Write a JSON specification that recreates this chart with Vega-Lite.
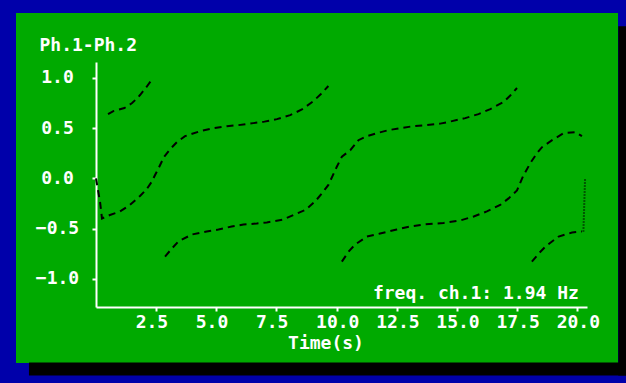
{
  "$schema": "https://vega.github.io/schema/vega-lite/v6.json",
  "width": 602,
  "height": 350,
  "autosize": {"type": "none"},
  "padding": {"left": 16, "top": 13, "right": 8, "bottom": 20},
  "background": "#0000AA",
  "config": {
    "view": {"fill": "#00AA00", "stroke": null},
    "font": "DejaVu Sans Mono"
  },
  "datasets": {
    "phase": [
      {"seg": "A1", "t": 0.0, "v": 0.0},
      {"seg": "A1", "t": 0.17, "v": -0.24},
      {"seg": "A1", "t": 0.25, "v": -0.4},
      {"seg": "A1", "t": 0.58, "v": -0.365},
      {"seg": "A1", "t": 1.0, "v": -0.33},
      {"seg": "A1", "t": 1.41, "v": -0.265},
      {"seg": "A1", "t": 1.83, "v": -0.176},
      {"seg": "A1", "t": 2.1, "v": -0.11},
      {"seg": "A1", "t": 2.3, "v": -0.04},
      {"seg": "A1", "t": 2.45, "v": 0.03},
      {"seg": "A1", "t": 2.6, "v": 0.1},
      {"seg": "A1", "t": 2.83, "v": 0.215},
      {"seg": "A1", "t": 3.08, "v": 0.29},
      {"seg": "A1", "t": 3.36, "v": 0.36},
      {"seg": "A1", "t": 3.7, "v": 0.42},
      {"seg": "A1", "t": 4.33, "v": 0.47},
      {"seg": "A1", "t": 4.88, "v": 0.5},
      {"seg": "A1", "t": 5.44, "v": 0.52},
      {"seg": "A1", "t": 5.92, "v": 0.53},
      {"seg": "A1", "t": 6.54, "v": 0.55},
      {"seg": "A1", "t": 7.0, "v": 0.565},
      {"seg": "A1", "t": 7.52, "v": 0.59},
      {"seg": "A1", "t": 8.07, "v": 0.63},
      {"seg": "A1", "t": 8.56, "v": 0.686},
      {"seg": "A1", "t": 9.04, "v": 0.77},
      {"seg": "A1", "t": 9.35, "v": 0.84},
      {"seg": "A1", "t": 9.66, "v": 0.92},
      {"seg": "A2", "t": 10.22, "v": -0.83},
      {"seg": "A2", "t": 10.5, "v": -0.73},
      {"seg": "A2", "t": 10.77, "v": -0.66},
      {"seg": "A2", "t": 11.26, "v": -0.58},
      {"seg": "A2", "t": 11.81, "v": -0.55},
      {"seg": "A2", "t": 12.5, "v": -0.51},
      {"seg": "A2", "t": 13.06, "v": -0.48},
      {"seg": "A2", "t": 13.62, "v": -0.46},
      {"seg": "A2", "t": 14.45, "v": -0.445},
      {"seg": "A2", "t": 15.14, "v": -0.42},
      {"seg": "A2", "t": 15.7, "v": -0.38},
      {"seg": "A2", "t": 16.25, "v": -0.33},
      {"seg": "A2", "t": 16.8, "v": -0.265},
      {"seg": "A2", "t": 17.15, "v": -0.2},
      {"seg": "A2", "t": 17.5, "v": -0.12},
      {"seg": "A2", "t": 17.75, "v": 0.02},
      {"seg": "A2", "t": 18.05, "v": 0.15},
      {"seg": "A2", "t": 18.33, "v": 0.25},
      {"seg": "A2", "t": 18.54, "v": 0.31},
      {"seg": "A2", "t": 18.96, "v": 0.38},
      {"seg": "A2", "t": 19.44, "v": 0.45},
      {"seg": "A2", "t": 19.93, "v": 0.46},
      {"seg": "A2", "t": 20.2, "v": 0.42},
      {"seg": "B1", "t": 0.5, "v": 0.64},
      {"seg": "B1", "t": 0.72, "v": 0.67},
      {"seg": "B1", "t": 1.18, "v": 0.7},
      {"seg": "B1", "t": 1.5, "v": 0.75},
      {"seg": "B1", "t": 1.72, "v": 0.8},
      {"seg": "B1", "t": 1.83, "v": 0.83},
      {"seg": "B1", "t": 2.1, "v": 0.91},
      {"seg": "B1", "t": 2.34, "v": 0.99},
      {"seg": "B2", "t": 2.87, "v": -0.78},
      {"seg": "B2", "t": 3.15, "v": -0.7},
      {"seg": "B2", "t": 3.42, "v": -0.63},
      {"seg": "B2", "t": 3.98, "v": -0.56},
      {"seg": "B2", "t": 4.6, "v": -0.53},
      {"seg": "B2", "t": 5.09, "v": -0.51},
      {"seg": "B2", "t": 5.64, "v": -0.48},
      {"seg": "B2", "t": 6.13, "v": -0.46},
      {"seg": "B2", "t": 6.68, "v": -0.45},
      {"seg": "B2", "t": 7.1, "v": -0.44},
      {"seg": "B2", "t": 7.79, "v": -0.41},
      {"seg": "B2", "t": 8.21, "v": -0.365},
      {"seg": "B2", "t": 8.7, "v": -0.315},
      {"seg": "B2", "t": 9.11, "v": -0.23},
      {"seg": "B2", "t": 9.39, "v": -0.15},
      {"seg": "B2", "t": 9.66, "v": -0.066},
      {"seg": "B2", "t": 10.01, "v": 0.115},
      {"seg": "B2", "t": 10.22, "v": 0.215},
      {"seg": "B2", "t": 10.57, "v": 0.28},
      {"seg": "B2", "t": 10.91, "v": 0.38},
      {"seg": "B2", "t": 11.26, "v": 0.42},
      {"seg": "B2", "t": 11.68, "v": 0.45},
      {"seg": "B2", "t": 12.16, "v": 0.48},
      {"seg": "B2", "t": 12.64, "v": 0.5},
      {"seg": "B2", "t": 13.2, "v": 0.52},
      {"seg": "B2", "t": 13.76, "v": 0.53},
      {"seg": "B2", "t": 14.31, "v": 0.545},
      {"seg": "B2", "t": 14.8, "v": 0.57},
      {"seg": "B2", "t": 15.35, "v": 0.6},
      {"seg": "B2", "t": 15.9, "v": 0.64},
      {"seg": "B2", "t": 16.39, "v": 0.69},
      {"seg": "B2", "t": 16.94, "v": 0.76},
      {"seg": "B2", "t": 17.2, "v": 0.82},
      {"seg": "B2", "t": 17.5, "v": 0.9},
      {"seg": "B3", "t": 18.12, "v": -0.83},
      {"seg": "B3", "t": 18.4, "v": -0.75},
      {"seg": "B3", "t": 18.68, "v": -0.68},
      {"seg": "B3", "t": 19.23, "v": -0.58},
      {"seg": "B3", "t": 19.79, "v": -0.54},
      {"seg": "B3", "t": 20.2, "v": -0.53},
      {"seg": "B4", "t": 20.26, "v": -0.53},
      {"seg": "B4", "t": 20.33, "v": 0.0}
    ]
  },
  "layer": [
    {
      "data": {"values": [{}]},
      "mark": {"type": "rect", "color": "#000000", "clip": false},
      "encoding": {
        "x": {"datum": 21.71, "type": "quantitative"},
        "x2": {"datum": 22.4},
        "y": {"datum": 1.514, "type": "quantitative"},
        "y2": {"datum": -1.965}
      }
    },
    {
      "data": {"values": [{}]},
      "mark": {"type": "rect", "color": "#000000", "clip": false},
      "encoding": {
        "x": {"datum": -2.787, "type": "quantitative"},
        "x2": {"datum": 22.4},
        "y": {"datum": -1.836, "type": "quantitative"},
        "y2": {"datum": -1.965}
      }
    },
    {
      "data": {"name": "phase"},
      "mark": {"type": "line", "color": "#000000", "strokeWidth": 2, "strokeCap": "butt", "clip": false},
      "encoding": {
        "x": {
          "field": "t",
          "type": "quantitative",
          "scale": {"domain": [0, 20.41], "range": [80, 571], "nice": false, "zero": false},
          "axis": {
            "title": "Time(s)",
            "values": [2.5, 5, 7.5, 10, 12.5, 15, 17.5, 20],
            "format": ".1f",
            "offset": -56,
            "grid": false,
            "domainColor": "#FFFFFF",
            "domainWidth": 2,
            "tickColor": "#FFFFFF",
            "tickWidth": 2,
            "tickSize": 4,
            "labelColor": "#FFFFFF",
            "labelFont": "DejaVu Sans Mono",
            "labelFontSize": 18,
            "labelFontWeight": "bold",
            "labelAlign": "left",
            "labelOffset": -21,
            "labelBaseline": "alphabetic",
            "labelPadding": 16,
            "labelOverlap": false,
            "labelFlush": false,
            "titleColor": "#FFFFFF",
            "titleFont": "DejaVu Sans Mono",
            "titleFontSize": 18,
            "titleFontWeight": "bold",
            "titleX": 309.5,
            "titleY": 41,
            "titleAlign": "center",
            "titleBaseline": "alphabetic"
          }
        },
        "y": {
          "field": "v",
          "type": "quantitative",
          "scale": {"domain": [-1.282, 1.159], "range": [294, 49], "nice": false, "zero": false},
          "axis": {
            "title": "Ph.1-Ph.2",
            "values": [-1, -0.5, 0, 0.5, 1],
            "format": ".1f",
            "offset": -80,
            "grid": false,
            "domainColor": "#FFFFFF",
            "domainWidth": 2,
            "tickColor": "#FFFFFF",
            "tickWidth": 2,
            "tickSize": 4,
            "labelColor": "#FFFFFF",
            "labelFont": "DejaVu Sans Mono",
            "labelFontSize": 18,
            "labelFontWeight": "bold",
            "labelAlign": "center",
            "labelBaseline": "middle",
            "labelPadding": 35,
            "labelOverlap": false,
            "labelFlush": false,
            "titleColor": "#FFFFFF",
            "titleFont": "DejaVu Sans Mono",
            "titleFontSize": 18,
            "titleFontWeight": "bold",
            "titleAngle": 0,
            "titleX": -57,
            "titleY": 37,
            "titleAlign": "left",
            "titleBaseline": "alphabetic"
          }
        },
        "detail": {"field": "seg"},
        "strokeDash": {
          "field": "seg",
          "type": "nominal",
          "scale": {"domain": ["A1", "A2", "B1", "B2", "B3", "B4"], "range": [[7, 5], [7, 5], [7, 5], [7, 5], [7, 5], [1, 2]]},
          "legend": null
        }
      }
    },
    {
      "data": {"values": [{}]},
      "mark": {"type": "text", "color": "#FFFFFF", "font": "DejaVu Sans Mono", "fontSize": 18, "fontWeight": "bold", "align": "right", "baseline": "alphabetic", "clip": false},
      "encoding": {
        "x": {"datum": 20.07, "type": "quantitative"},
        "y": {"datum": -1.2, "type": "quantitative"},
        "text": {"value": "freq. ch.1: 1.94 Hz"}
      }
    }
  ]
}
